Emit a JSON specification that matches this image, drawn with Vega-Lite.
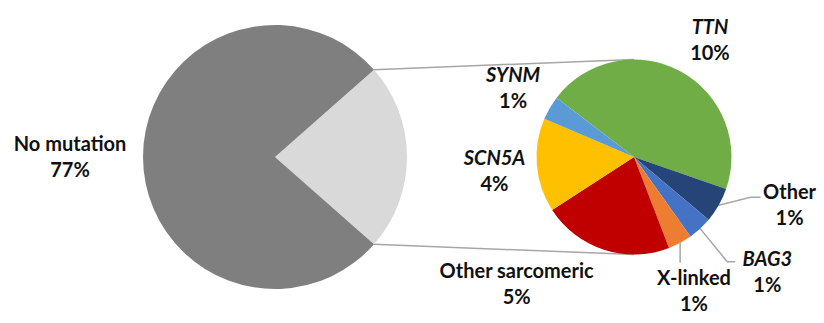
{
  "$schema": "https://vega.github.io/schema/vega-lite/v6.json",
  "width": 824,
  "height": 323,
  "autosize": "none",
  "padding": 0,
  "background": "white",
  "config": {
    "view": {"stroke": null},
    "text": {"font": "Lato", "fontSize": 20, "fontWeight": "bold", "color": "#111111", "baseline": "middle", "align": "center", "lineHeight": 26}
  },
  "data": {
    "values": [
      {"pie": "main", "category": "Mutation", "value": 23, "gene": false},
      {"pie": "main", "category": "No mutation", "value": 77, "gene": false},
      {"pie": "detail", "category": "TTN", "value": 10.33, "gene": true},
      {"pie": "detail", "category": "Other", "value": 1.33, "gene": false},
      {"pie": "detail", "category": "BAG3", "value": 0.93, "gene": true},
      {"pie": "detail", "category": "X-linked", "value": 0.92, "gene": false},
      {"pie": "detail", "category": "Other sarcomeric", "value": 4.99, "gene": false},
      {"pie": "detail", "category": "SCN5A", "value": 3.58, "gene": true},
      {"pie": "detail", "category": "SYNM", "value": 0.92, "gene": true}
    ]
  },
  "transform": [
    {"stack": "value", "groupby": ["pie"], "as": ["v0", "v1"]},
    {"calculate": "(datum.v0 + datum.v1) / 2", "as": "mid"},
    {"calculate": "format(datum.value, '.0f') + '%'", "as": "pct"},
    {"calculate": "datum.category + '\\n' + datum.pct", "as": "label"}
  ],
  "resolve": {"scale": {"theta": "independent"}},
  "layer": [
    {
      "transform": [
        {"filter": "datum.category === 'Mutation'"},
        {"calculate": "datum.value / 100 * PI", "as": "h"},
        {"calculate": "1", "as": "top"},
        {"calculate": "-1", "as": "bottom"},
        {"fold": ["top", "bottom"], "as": ["side", "sgn"]},
        {"calculate": "cos(datum.h)", "as": "x0"},
        {"calculate": "datum.sgn * sin(datum.h)", "as": "y0"},
        {"calculate": "2.7197", "as": "x1"},
        {"calculate": "datum.sgn * 0.7386", "as": "y1"}
      ],
      "mark": {"type": "rule", "color": "#a6a6a6", "strokeWidth": 1.5},
      "encoding": {
        "x": {"field": "x0", "type": "quantitative", "scale": {"domain": [-2.0833, 4.1591], "nice": false, "zero": false}, "axis": null},
        "x2": {"field": "x1"},
        "y": {"field": "y0", "type": "quantitative", "scale": {"domain": [-1.2576, 1.1894], "nice": false, "zero": false}, "axis": null},
        "y2": {"field": "y1"}
      }
    },
    {
      "transform": [
        {"filter": "datum.category === 'Other' || datum.category === 'BAG3' || datum.category === 'X-linked'"},
        {"calculate": "-0.9163 + datum.mid / 23 * 2 * PI", "as": "a"},
        {"calculate": "2.7197 + 0.7386 * sin(datum.a)", "as": "xe"},
        {"calculate": "0.7386 * cos(datum.a)", "as": "ye"},
        {"calculate": "datum.category === 'Other' ? 0.24 : datum.category === 'BAG3' ? 0.205 : 0", "as": "bdx"},
        {"calculate": "datum.category === 'Other' ? 0.06 : datum.category === 'BAG3' ? -0.25 : -0.15", "as": "bdy"},
        {"calculate": "datum.category === 'Other' ? 0.076 : datum.category === 'BAG3' ? 0.06 : 0", "as": "ndx"},
        {"calculate": "0", "as": "k0"},
        {"calculate": "1", "as": "k1"},
        {"calculate": "2", "as": "k2"},
        {"fold": ["k0", "k1", "k2"], "as": ["key", "idx"]},
        {"calculate": "datum.xe + (datum.idx >= 1 ? datum.bdx : 0) + (datum.idx >= 2 ? datum.ndx : 0)", "as": "px"},
        {"calculate": "datum.ye + (datum.idx >= 1 ? datum.bdy : 0)", "as": "py"}
      ],
      "mark": {"type": "line", "color": "#a6a6a6", "strokeWidth": 1.5},
      "encoding": {
        "x": {"field": "px", "type": "quantitative"},
        "y": {"field": "py", "type": "quantitative"},
        "detail": {"field": "category"},
        "order": {"field": "idx", "type": "quantitative"}
      }
    },
    {
      "transform": [{"filter": "datum.pie === 'main'"}],
      "mark": {"type": "arc", "outerRadius": 132},
      "encoding": {
        "x": {"datum": 0, "type": "quantitative"},
        "y": {"datum": 0, "type": "quantitative"},
        "theta": {"field": "v0", "type": "quantitative", "scale": {"domain": [0, 100], "range": [0.84823, 7.13142]}},
        "theta2": {"field": "v1"},
        "color": {
          "field": "category", "type": "nominal", "legend": null,
          "scale": {
            "domain": ["Mutation", "No mutation", "TTN", "Other", "BAG3", "X-linked", "Other sarcomeric", "SCN5A", "SYNM"],
            "range": ["#d9d9d9", "#7f7f7f", "#70ad47", "#264478", "#4472c4", "#ed7d31", "#c00000", "#ffc000", "#5b9bd5"]
          }
        }
      }
    },
    {
      "transform": [{"filter": "datum.pie === 'detail'"}],
      "mark": {"type": "arc", "outerRadius": 97.5},
      "encoding": {
        "x": {"datum": 2.7197, "type": "quantitative"},
        "y": {"datum": 0, "type": "quantitative"},
        "theta": {"field": "v0", "type": "quantitative", "scale": {"domain": [0, 23], "range": [-0.9163, 5.36689]}},
        "theta2": {"field": "v1"},
        "color": {"field": "category", "type": "nominal", "legend": null}
      }
    },
    {
      "transform": [{"filter": "datum.category === 'No mutation'"}],
      "mark": {"type": "text", "radius": 205, "dy": -12, "lineBreak": "\n"},
      "encoding": {
        "x": {"datum": 0, "type": "quantitative"},
        "y": {"datum": 0, "type": "quantitative"},
        "theta": {"field": "mid", "type": "quantitative", "stack": null, "scale": {"domain": [0, 100], "range": [0.84823, 7.13142]}},
        "text": {"field": "label"}
      }
    },
    {
      "transform": [{"filter": "datum.category === 'TTN'"}],
      "mark": {"type": "text", "radius": 140, "dx": 9.5, "dy": -5.5, "fontStyle": "italic"},
      "encoding": {
        "x": {"datum": 2.7197, "type": "quantitative"},
        "y": {"datum": 0, "type": "quantitative"},
        "theta": {"field": "mid", "type": "quantitative", "stack": null, "scale": {"domain": [0, 23], "range": [-0.9163, 5.36689]}},
        "text": {"field": "category"}
      }
    },
    {
      "transform": [{"filter": "datum.category === 'TTN'"}],
      "mark": {"type": "text", "radius": 140, "dx": 9.5, "dy": 20.3},
      "encoding": {
        "x": {"datum": 2.7197, "type": "quantitative"},
        "y": {"datum": 0, "type": "quantitative"},
        "theta": {"field": "mid", "type": "quantitative", "stack": null, "scale": {"domain": [0, 23], "range": [-0.9163, 5.36689]}},
        "text": {"field": "pct"}
      }
    },
    {
      "transform": [{"filter": "datum.category === 'SYNM' || datum.category === 'SCN5A'"}],
      "mark": {"type": "text", "radius": 140, "dy": -10, "fontStyle": "italic"},
      "encoding": {
        "x": {"datum": 2.7197, "type": "quantitative"},
        "y": {"datum": 0, "type": "quantitative"},
        "theta": {"field": "mid", "type": "quantitative", "stack": null, "scale": {"domain": [0, 23], "range": [-0.9163, 5.36689]}},
        "text": {"field": "category"}
      }
    },
    {
      "transform": [{"filter": "datum.category === 'SYNM' || datum.category === 'SCN5A'"}],
      "mark": {"type": "text", "radius": 140, "dy": 16},
      "encoding": {
        "x": {"datum": 2.7197, "type": "quantitative"},
        "y": {"datum": 0, "type": "quantitative"},
        "theta": {"field": "mid", "type": "quantitative", "stack": null, "scale": {"domain": [0, 23], "range": [-0.9163, 5.36689]}},
        "text": {"field": "pct"}
      }
    },
    {
      "transform": [{"filter": "datum.category === 'BAG3'"}],
      "mark": {"type": "text", "radius": 145, "dx": 35, "dy": -4, "fontStyle": "italic"},
      "encoding": {
        "x": {"datum": 2.7197, "type": "quantitative"},
        "y": {"datum": 0, "type": "quantitative"},
        "theta": {"field": "mid", "type": "quantitative", "stack": null, "scale": {"domain": [0, 23], "range": [-0.9163, 5.36689]}},
        "text": {"field": "category"}
      }
    },
    {
      "transform": [{"filter": "datum.category === 'BAG3'"}],
      "mark": {"type": "text", "radius": 145, "dx": 35, "dy": 22},
      "encoding": {
        "x": {"datum": 2.7197, "type": "quantitative"},
        "y": {"datum": 0, "type": "quantitative"},
        "theta": {"field": "mid", "type": "quantitative", "stack": null, "scale": {"domain": [0, 23], "range": [-0.9163, 5.36689]}},
        "text": {"field": "pct"}
      }
    },
    {
      "transform": [{"filter": "datum.category === 'X-linked'"}],
      "mark": {"type": "text", "radius": 150, "dx": -11, "dy": -10, "lineBreak": "\n"},
      "encoding": {
        "x": {"datum": 2.7197, "type": "quantitative"},
        "y": {"datum": 0, "type": "quantitative"},
        "theta": {"field": "mid", "type": "quantitative", "stack": null, "scale": {"domain": [0, 23], "range": [-0.9163, 5.36689]}},
        "text": {"field": "label"}
      }
    },
    {
      "transform": [{"filter": "datum.category === 'Other'"}],
      "mark": {"type": "text", "radius": 145, "dx": 29.5, "dy": -35.5, "lineBreak": "\n"},
      "encoding": {
        "x": {"datum": 2.7197, "type": "quantitative"},
        "y": {"datum": 0, "type": "quantitative"},
        "theta": {"field": "mid", "type": "quantitative", "stack": null, "scale": {"domain": [0, 23], "range": [-0.9163, 5.36689]}},
        "text": {"field": "label"}
      }
    },
    {
      "transform": [{"filter": "datum.category === 'Other sarcomeric'"}],
      "mark": {"type": "text", "radius": 145, "dx": -72.5, "dy": -23, "lineBreak": "\n"},
      "encoding": {
        "x": {"datum": 2.7197, "type": "quantitative"},
        "y": {"datum": 0, "type": "quantitative"},
        "theta": {"field": "mid", "type": "quantitative", "stack": null, "scale": {"domain": [0, 23], "range": [-0.9163, 5.36689]}},
        "text": {"field": "label"}
      }
    }
  ]
}
